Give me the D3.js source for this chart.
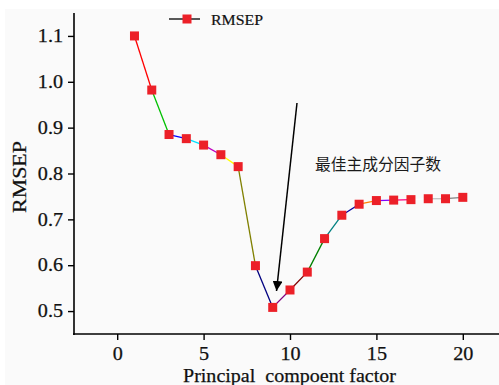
<!DOCTYPE html>
<html><head><meta charset="utf-8">
<script src="https://cdn.jsdelivr.net/npm/d3@7/dist/d3.min.js"></script>
<style>body{margin:0;background:#fff}svg{display:block}</style>
</head><body>
<script>
const components = [1,2,3,4,5,6,7,8,9,10,11,12,13,14,15,16,17,18,19,20];
const rmsep = [1.100,0.982,0.885,0.876,0.862,0.841,0.815,0.599,0.508,0.546,0.585,0.658,0.709,0.733,0.741,0.742,0.743,0.745,0.745,0.748];
// Origin-style colour increment for each connecting segment
const segColors = ["#ff0000","#00c000","#0000ff","#00e0ff","#c000c0","#ffff00","#808000","#000080","#800080","#800000","#008000","#008080","#0000a0","#ff8000","#8000ff","#ff0080","#ffffff","#c0c0c0","#808080"];
const xTicks = [0,5,10,15,20];
const yTicks = [0.5,0.6,0.7,0.8,0.9,1.0,1.1];
const seriesName = "RMSEP";
const xTitle = "Principal  compoent factor";
const yTitle = "RMSEP";
const annotation = "最佳主成分因子数";

const W = 499, H = 385;
const serif = "'Liberation Serif', 'Times New Roman', serif";
const stretch = 1.12;
const svg = d3.select("body").append("svg").attr("width", W).attr("height", H);
svg.append("rect").attr("x",5).attr("y",9).attr("width",W-5).attr("height",H-9).attr("fill","#fafafa");

const x = d3.scaleLinear().domain([-2.5, 22.5]).range([74, 506]);
const y = d3.scaleLinear().domain([0.45, 1.15]).range([334, 13]);

const meas = svg.append("text").style("font-family",serif).attr("opacity",0);
function widthOf(str, size){ meas.style("font-size",size+"px").text(str); return meas.node().getComputedTextLength(); }

const gx = svg.append("g").attr("transform","translate(0,334)")
  .call(d3.axisBottom(x).tickValues(xTicks).tickFormat(d3.format("d")).tickSize(6).tickPadding(7).tickSizeOuter(0));
gx.select(".domain").remove();
svg.append("line").attr("x1",73).attr("x2",W).attr("y1",334).attr("y2",334).attr("stroke","#000").attr("stroke-width",1.6);
const gy = svg.append("g").attr("transform","translate(74,0)")
  .call(d3.axisLeft(y).tickValues(yTicks).tickFormat(d3.format(".1f")).tickSize(6).tickPadding(5).tickSizeOuter(0));
gy.select(".domain").remove();
svg.append("line").attr("x1",74).attr("x2",74).attr("y1",13).attr("y2",335).attr("stroke","#000").attr("stroke-width",1.6);
[gx,gy].forEach(g=>{
  g.attr("font-family",null).attr("font-size",null);
  g.selectAll(".tick line").attr("stroke","#000").attr("stroke-width",1.4);
  g.selectAll(".tick text").attr("fill","#111").attr("stroke","#111").attr("stroke-width",0.25)
    .style("font-family",serif).style("font-size","18px")
    .each(function(){ const t=d3.select(this); t.attr("textLength", widthOf(t.text(),18)*stretch).attr("lengthAdjust","spacingAndGlyphs"); });
});

// segments
const pts = components.map((c,i)=>({c, v: rmsep[i]}));
svg.append("g").selectAll("line").data(d3.pairs(pts)).join("line")
  .attr("x1",d=>x(d[0].c)).attr("y1",d=>y(d[0].v))
  .attr("x2",d=>x(d[1].c)).attr("y2",d=>y(d[1].v))
  .attr("stroke",(d,i)=>segColors[i]).attr("stroke-width",1.3);

const ms = 9;
svg.append("g").selectAll("rect").data(pts).join("rect")
  .attr("x",d=>x(d.c)-ms/2).attr("y",d=>y(d.v)-ms/2)
  .attr("width",ms).attr("height",ms).attr("fill","#ec2028");

// legend
svg.append("line").attr("x1",169).attr("x2",200).attr("y1",19).attr("y2",19).attr("stroke","#000").attr("stroke-width",1.3);
svg.append("rect").attr("x",187-ms/2).attr("y",19-ms/2).attr("width",ms).attr("height",ms).attr("fill","#ec2028");
svg.append("text").attr("x",211).attr("y",24.5).style("font-family",serif).style("font-size","15px")
  .attr("fill","#111").attr("stroke","#111").attr("stroke-width",0.2)
  .attr("textLength",52).attr("lengthAdjust","spacingAndGlyphs").text(seriesName);

// axis titles
svg.append("text").attr("x",183).attr("y",382).style("font-family",serif)
  .attr("fill","#111").attr("stroke","#111").attr("stroke-width",0.25)
  .style("font-size","19px").style("white-space","pre").attr("textLength",213).attr("lengthAdjust","spacingAndGlyphs").text(xTitle);
svg.append("text").attr("transform","translate(26,213) rotate(-90)")
  .attr("fill","#111").attr("stroke","#111").attr("stroke-width",0.25)
  .style("font-family",serif).style("font-size","18.5px").attr("textLength",72).attr("lengthAdjust","spacingAndGlyphs").text(yTitle);
meas.remove();

// annotation arrow
const defs = svg.append("defs");
defs.append("marker").attr("id","ah").attr("viewBox","0 0 10 10").attr("refX",10).attr("refY",5)
  .attr("markerWidth",10).attr("markerHeight",10).attr("markerUnits","userSpaceOnUse").attr("orient","auto")
  .append("path").attr("d","M0,0 L10,5 L0,10 Z").attr("fill","#000");
svg.append("line").attr("x1",297).attr("y1",103).attr("x2",276.5).attr("y2",291)
  .attr("stroke","#000").attr("stroke-width",1.5).attr("marker-end","url(#ah)");
svg.append("text").attr("x",315).attr("y",169.5).style("font-family","'Noto Sans CJK SC',sans-serif")
  .style("font-size","16px").attr("fill","#1a1a1a").attr("textLength",126).attr("lengthAdjust","spacingAndGlyphs").text(annotation);
</script>
</body></html>
